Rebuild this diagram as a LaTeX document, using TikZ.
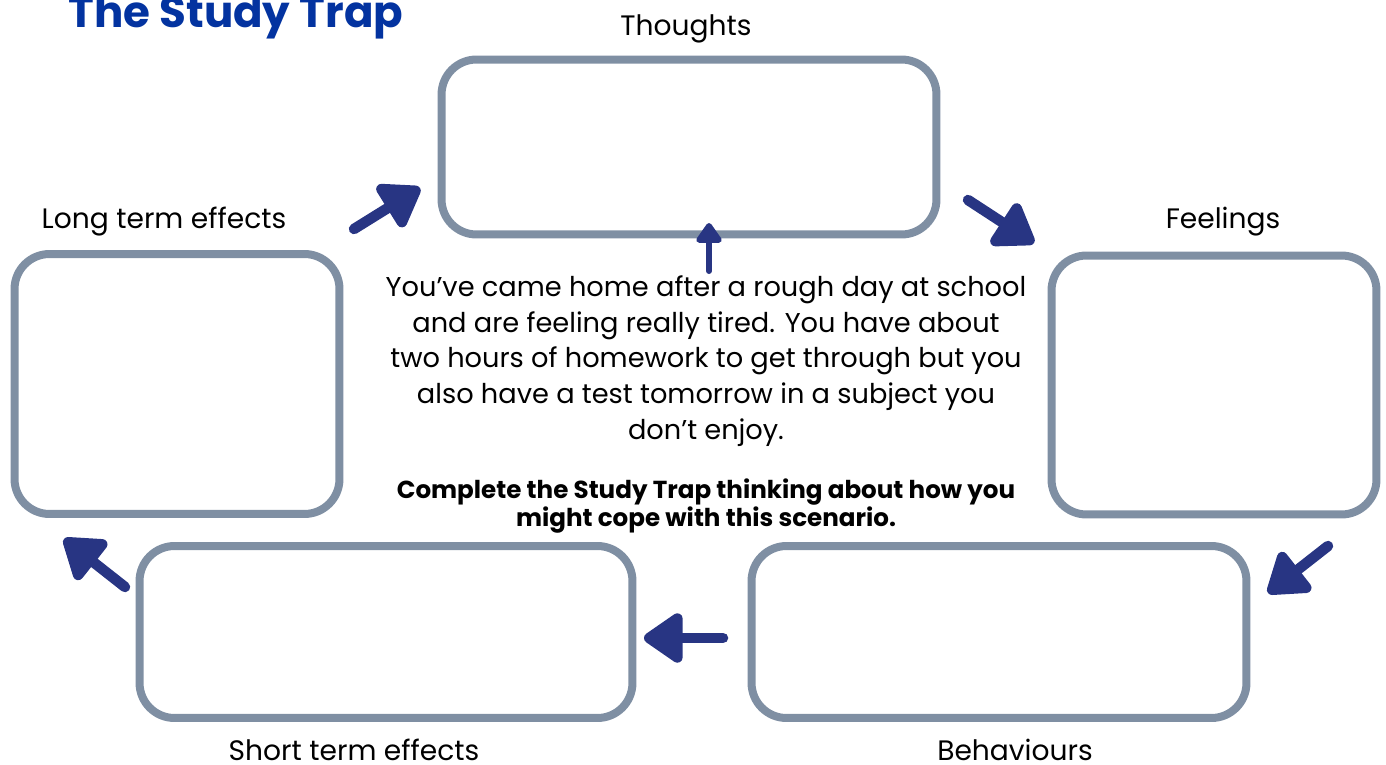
\documentclass[tikz,border=0pt]{standalone}
\usepackage{fontspec}
\setmainfont{Poppins}
\usetikzlibrary{arrows.meta}

\definecolor{boxgray}{RGB}{127,143,163}
\definecolor{arrownavy}{RGB}{40,53,131}
\definecolor{titleblue}{RGB}{3,51,160}

\tikzset{
  trapbox/.style={draw=boxgray, line width=0.16cm, rounded corners=0.7cm},
  traparrow/.style={draw=arrownavy, line width=0.21cm, line cap=round,
    -{Triangle[length=0.86cm, width=1.12cm, round]}},
  thinarrow/.style={draw=arrownavy, line width=0.12cm, line cap=round,
    -{Triangle[length=0.44cm, width=0.58cm, round]}},
  boxlabel/.style={font=\fontsize{16}{18}\selectfont},
}

\begin{document}
\begin{tikzpicture}[x=0.02cm, y=-0.02cm]
\clip (0,0) rectangle (1386,764);

% title, cut off at the top of the page
\node [anchor=base west, text=titleblue, inner sep=0pt,
  font=\fontsize{24.8}{28}\bfseries] (title) at (68,28) {The Study Trap};

% the five boxes
\node [trapbox, minimum width=9.9cm, minimum height=3.5cm] (th) at (689,147) {};
\node [trapbox, minimum width=6.5cm, minimum height=5.18cm] (fe) at (1214,385) {};
\node [trapbox, minimum width=9.9cm, minimum height=3.44cm] (be) at (999,632) {};
\node [trapbox, minimum width=9.86cm, minimum height=3.44cm] (st) at (386,632) {};
\node [trapbox, minimum width=6.5cm, minimum height=5.2cm] (lt) at (177,384) {};

\node [boxlabel] (thl) at (686,29) {Thoughts};
\node [boxlabel] (fel) at (1223,222) {Feelings};
\node [boxlabel] (bel) at (1015,750) {Behaviours};
\node [boxlabel] (stl) at (354,750) {Short term effects};
\node [boxlabel] (ltl) at (164,222) {Long term effects};

% scenario
\node [align=center, font=\fontsize{15.5}{20.4}\selectfont] (scen) at (706,361)
  {You've came home after a rough day at school\\
   and are feeling really tired. You have about\\
   two hours of homework to get through but you\\
   also have a test tomorrow in a subject you\\
   don't enjoy.};
\node [align=center, font=\fontsize{14}{14.8}\bfseries] (task) at (706,506)
  {Complete the Study Trap thinking about how you\\
   might cope with this scenario.};

% arrow ends
\coordinate (a1) at (354,229);
\coordinate (a2) at (420,188);
\coordinate (b1) at (968,200);
\coordinate (b2) at (1034,243);
\coordinate (c1) at (1328,546);
\coordinate (c2) at (1268,593);
\coordinate (d1) at (723,638);
\coordinate (d2) at (644,638);
\coordinate (e1) at (125,587);
\coordinate (e2) at (64,539);
\coordinate (f1) at (709,271);
\coordinate (f2) at (709,223);

\draw[traparrow] (a1) -- (a2);
\draw[traparrow] (b1) -- (b2);
\draw[traparrow] (c1) -- (c2);
\draw[traparrow] (d1) -- (d2);
\draw[traparrow] (e1) -- (e2);
\draw[thinarrow] (f1) -- (f2);
\end{tikzpicture}
\end{document}
